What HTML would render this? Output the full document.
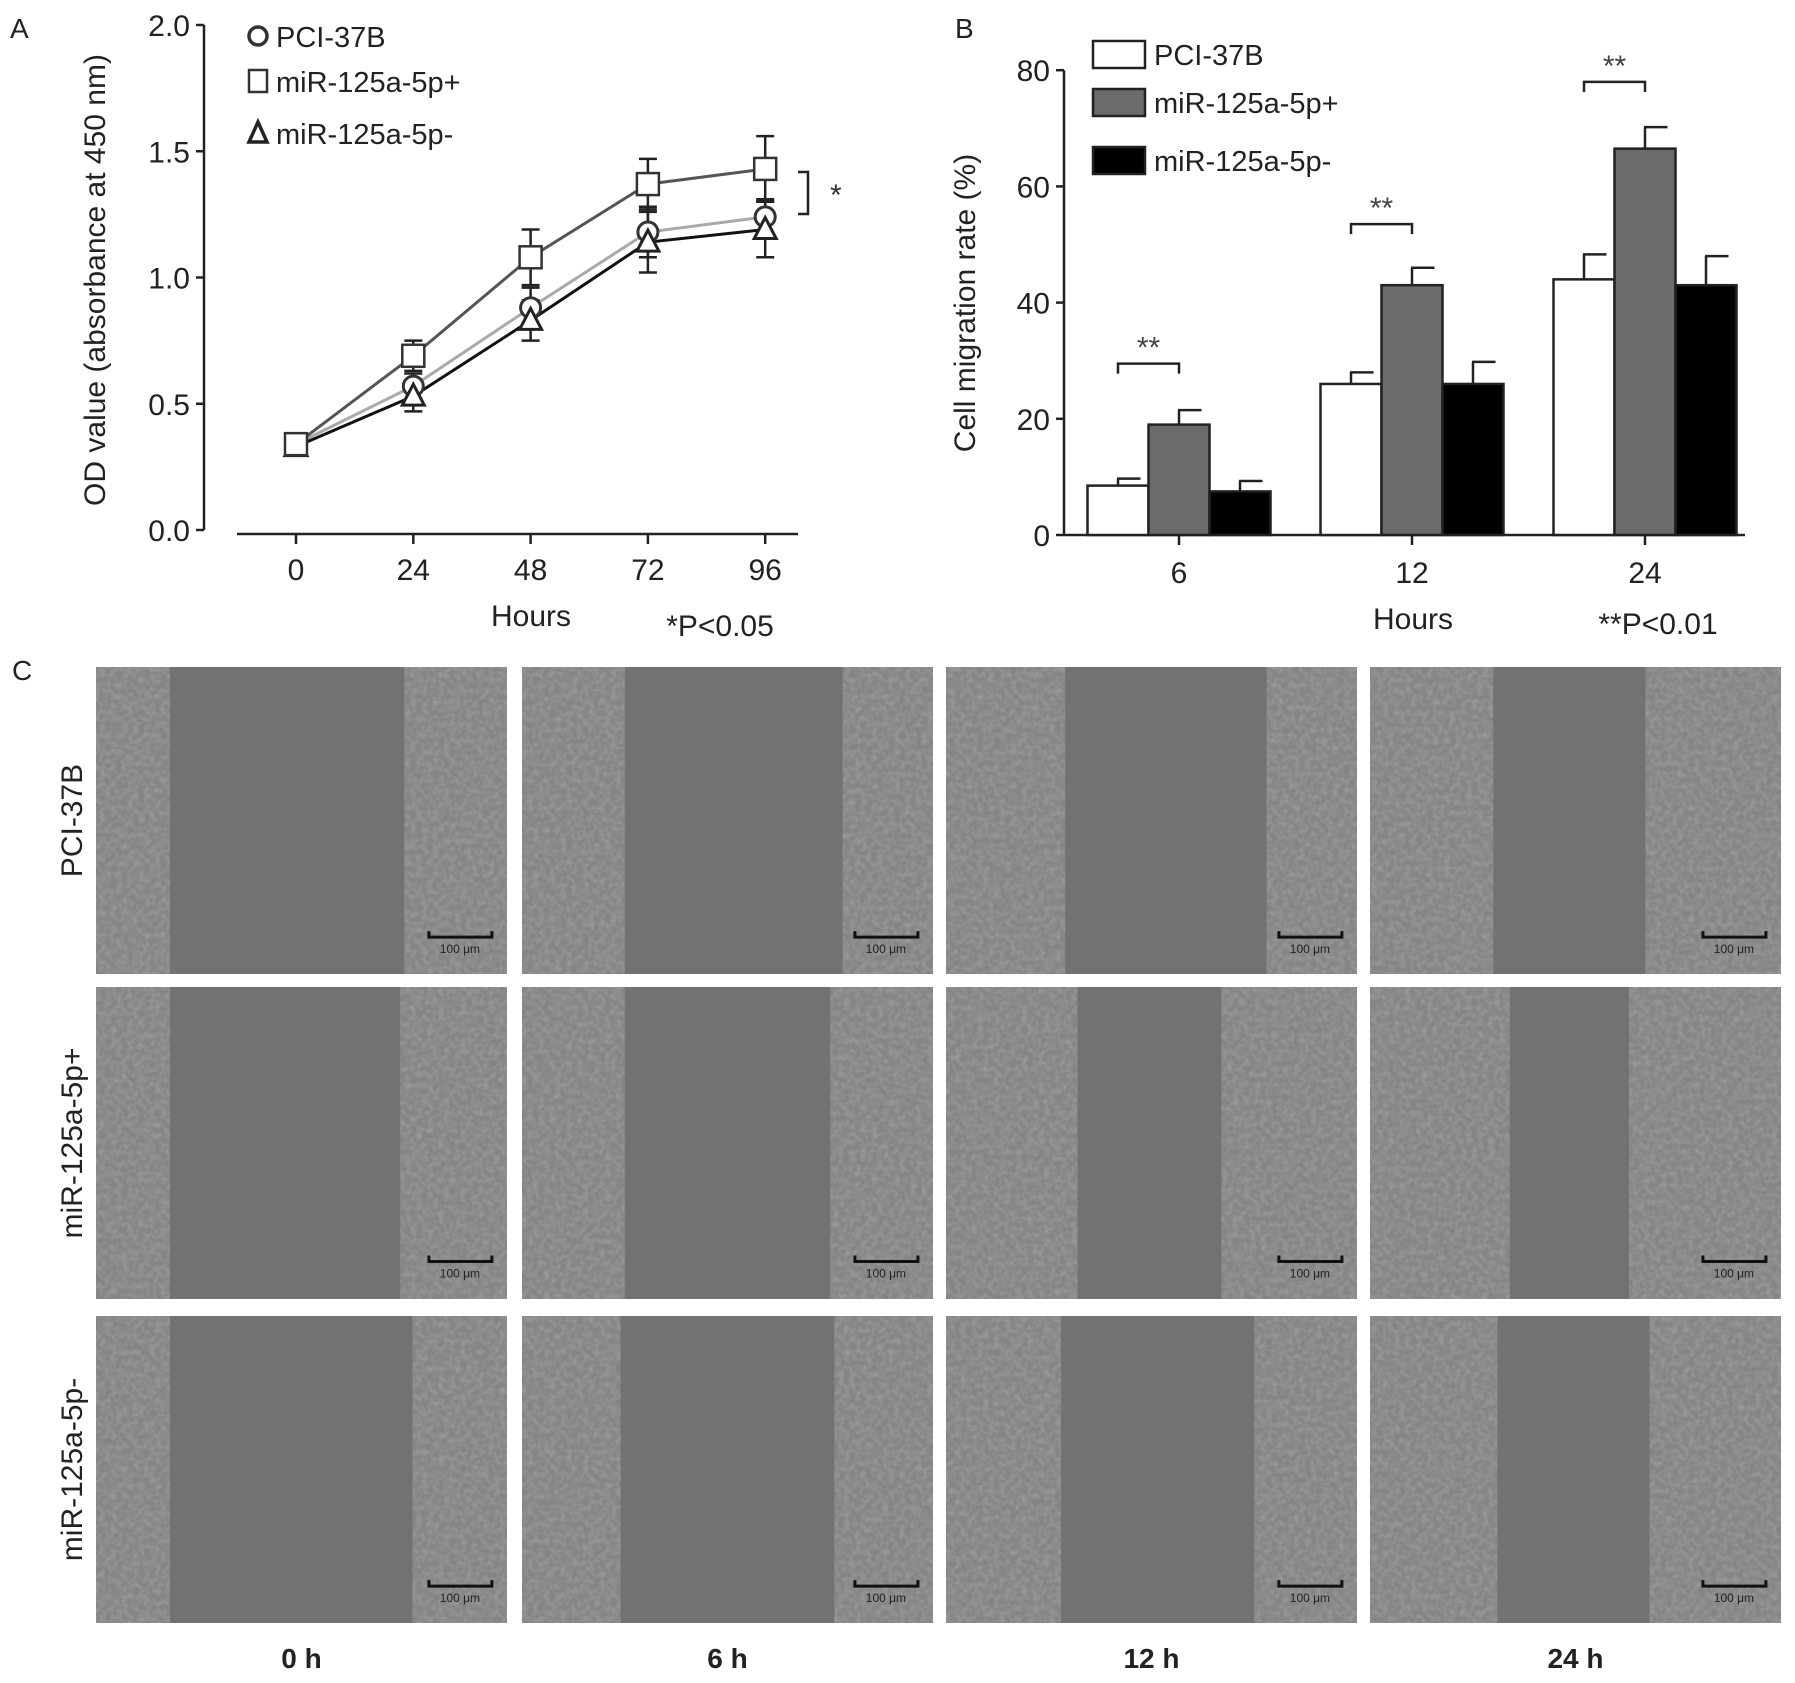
<!DOCTYPE html>
<html><head><meta charset="utf-8"><style>
html,body{margin:0;padding:0;background:#fff;}
svg{display:block;font-family:"Liberation Sans",sans-serif;}
</style></head><body>
<svg id="fig" width="1795" height="1683" viewBox="0 0 1795 1683" xmlns="http://www.w3.org/2000/svg">
<defs>
<filter id="noise" x="0" y="0" width="100%" height="100%">
<feTurbulence type="fractalNoise" baseFrequency="0.18" numOctaves="2" seed="3"/>
<feColorMatrix type="matrix" values="0 0 0 0 1  0 0 0 0 1  0 0 0 0 1  0 0 0 0.9 -0.3"/>
<feComposite in2="SourceGraphic" operator="in"/>
</filter>
</defs>
<g id="panelA"></g>
<g id="panelB"></g>
<g id="panelC"></g>
</svg>
<script>
// ---------- Panel A data ----------
const hoursA = [0, 24, 48, 72, 96];
const yTicksA = [0.0, 0.5, 1.0, 1.5, 2.0];
const pciA = [0.34, 0.57, 0.88, 1.18, 1.24];
const plusA = [0.34, 0.69, 1.08, 1.37, 1.43];
const minusA = [0.33, 0.53, 0.83, 1.14, 1.19];
const pciErrA = [0.03, 0.05, 0.08, 0.1, 0.07];
const plusErrA = [0.03, 0.06, 0.11, 0.1, 0.13];
const minusErrA = [0.03, 0.06, 0.08, 0.12, 0.11];
// ---------- Panel B data ----------
const groupsB = ["6", "12", "24"];
const yTicksB = [0, 20, 40, 60, 80];
const pciB = [8.5, 26, 44];
const plusB = [19, 43, 66.5];
const minusB = [7.5, 26, 43];
const pciErrB = [1.2, 2, 4.3];
const plusErrB = [2.5, 3, 3.7];
const minusErrB = [1.8, 3.8, 5];
const sigB = [29.5, 53.5, 78];
// ---------- Panel C data (gap edges as fraction of image width) ----------
const rowLabels = ["PCI-37B", "miR-125a-5p+", "miR-125a-5p-"];
const colLabels = ["0 h", "6 h", "12 h", "24 h"];
const gapLeft = [[0.18,0.25,0.29,0.30],[0.18,0.25,0.32,0.34],[0.18,0.24,0.28,0.31]];
const gapRight = [[0.75,0.78,0.78,0.67],[0.74,0.75,0.67,0.63],[0.77,0.76,0.75,0.68]];

const NS = "http://www.w3.org/2000/svg";
function mk(parent, tag, attrs, text){
  const e = document.createElementNS(NS, tag);
  for (const k in attrs) e.setAttribute(k, attrs[k]);
  if (text !== undefined) e.textContent = text;
  parent.appendChild(e); return e;
}

// ===== Panel A =====
(function(){
  const g = document.getElementById('panelA');
  const xA = h => 296 + (h/24)*117.3;
  const yA = v => 530 - v*252.5;
  let t = mk(g,'text',{x:10,y:38,'font-size':28,fill:'#222'},'A');
   
  let ax = mk(g,'line',{x1:204,y1:yA(2),x2:204,y2:yA(0),stroke:'#222','stroke-width':2.5});
   
  yTicksA.forEach(v=>{
    mk(g,'line',{x1:196,y1:yA(v),x2:204,y2:yA(v),stroke:'#222','stroke-width':2.5});
    const tl = mk(g,'text',{x:190,y:yA(v)+11,'font-size':30,'text-anchor':'end',fill:'#222'},v.toFixed(1));
     
  });
  let xa = mk(g,'line',{x1:237,y1:534,x2:798,y2:534,stroke:'#222','stroke-width':2.5});
   
  hoursA.forEach(h=>{
    mk(g,'line',{x1:xA(h),y1:534,x2:xA(h),y2:544,stroke:'#222','stroke-width':2.5});
    const tl = mk(g,'text',{x:xA(h),y:580,'font-size':30,'text-anchor':'middle',fill:'#222'},String(h));
     
  });
  t = mk(g,'text',{x:0,y:0,'font-size':30,'text-anchor':'middle',fill:'#222',transform:'translate(105,280) rotate(-90)'},'OD value (absorbance at 450 nm)');
   
  t = mk(g,'text',{x:531,y:626,'font-size':30,'text-anchor':'middle',fill:'#222'},'Hours');
   
  t = mk(g,'text',{x:720,y:636,'font-size':30,'text-anchor':'middle',fill:'#222'},'*P<0.05');
   
  let br = mk(g,'path',{d:'M798 172 H808 V214 H798',fill:'none',stroke:'#222','stroke-width':2.5});
   
  t = mk(g,'text',{x:830,y:205,'font-size':30,fill:'#333'},'*');
   

  const series = [
    {name:'pci', vals:pciA, err:pciErrA, color:'#aaa', marker:'circle'},
    {name:'minus', vals:minusA, err:minusErrA, color:'#111', marker:'triangle'},
    {name:'plus', vals:plusA, err:plusErrA, color:'#555', marker:'square'}
  ];
  series.forEach(s=>{
    const pts = s.vals.map((v,i)=>xA(hoursA[i])+','+yA(v)).join(' ');
    const pl = mk(g,'polyline',{points:pts,fill:'none',stroke:s.color,'stroke-width':3});
     
    s.vals.forEach((v,i)=>{
      const x = xA(hoursA[i]);
      const eb = mk(g,'path',{d:`M${x} ${yA(v-s.err[i])} V${yA(v+s.err[i])} M${x-9} ${yA(v+s.err[i])} H${x+9} M${x-9} ${yA(v-s.err[i])} H${x+9}`,stroke:'#222','stroke-width':2.5,fill:'none'});
       
    });
  });
  series.forEach(s=>{
    s.vals.forEach((v,i)=>{
      const x = xA(hoursA[i]), y = yA(v);
      let m;
      if (s.marker==='circle') m = mk(g,'circle',{cx:x,cy:y,r:10,fill:'#fff',stroke:'#333','stroke-width':3});
      else if (s.marker==='square') m = mk(g,'rect',{x:x-11,y:y-11,width:22,height:22,fill:'#fff',stroke:'#333','stroke-width':2.5});
      else m = mk(g,'polygon',{points:`${x},${y-12} ${x-11},${y+9} ${x+11},${y+9}`,fill:'#fff',stroke:'#222','stroke-width':3});
       
    });
  });
  const leg = [['circle','PCI-37B',36],['square','miR-125a-5p+',81],['triangle','miR-125a-5p-',133]];
  leg.forEach(l=>{
    const lg = mk(g,'g',{});
     
    const x=258, y=l[2];
    if (l[0]==='circle') mk(lg,'circle',{cx:x,cy:y,r:9,fill:'#fff',stroke:'#333','stroke-width':3.5});
    else if (l[0]==='square') mk(lg,'rect',{x:x-9,y:y-11,width:18,height:22,fill:'#fff',stroke:'#333','stroke-width':2.5});
    else mk(lg,'polygon',{points:`${x},${y-11} ${x-9},${y+9} ${x+9},${y+9}`,fill:'#fff',stroke:'#222','stroke-width':3.5});
    mk(lg,'text',{x:276,y:y+11,'font-size':29,fill:'#222'},l[1]);
  });
})();

// ===== Panel B =====
(function(){
  const g = document.getElementById('panelB');
  const yB = v => 535 - v*5.81;
  const cx = i => 1179 + i*233;
  const bw = 61;
  let t = mk(g,'text',{x:955,y:38,'font-size':28,fill:'#222'},'B');
   
  let ax = mk(g,'line',{x1:1064,y1:yB(80),x2:1064,y2:yB(0),stroke:'#222','stroke-width':2.5});
   
  yTicksB.forEach(v=>{
    mk(g,'line',{x1:1056,y1:yB(v),x2:1064,y2:yB(v),stroke:'#222','stroke-width':2.5});
    const tl = mk(g,'text',{x:1050,y:yB(v)+11,'font-size':30,'text-anchor':'end',fill:'#222'},String(v));
     
  });
  let xa = mk(g,'line',{x1:1064,y1:yB(0),x2:1745,y2:yB(0),stroke:'#222','stroke-width':2.5});
   
  groupsB.forEach((gname,i)=>{
    mk(g,'line',{x1:cx(i),y1:yB(0),x2:cx(i),y2:yB(0)+10,stroke:'#222','stroke-width':2.5});
    const tl = mk(g,'text',{x:cx(i),y:583,'font-size':30,'text-anchor':'middle',fill:'#222'},gname);
     
  });
  t = mk(g,'text',{x:0,y:0,'font-size':30,'text-anchor':'middle',fill:'#222',transform:'translate(975,303) rotate(-90)'},'Cell migration rate (%)');
   
  t = mk(g,'text',{x:1413,y:629,'font-size':30,'text-anchor':'middle',fill:'#222'},'Hours');
   
  t = mk(g,'text',{x:1658,y:634,'font-size':30,'text-anchor':'middle',fill:'#222'},'**P<0.01');
   
  const series = [['pci',pciB,pciErrB,'#fff',-1],['plus',plusB,plusErrB,'#6b6b6b',0],['minus',minusB,minusErrB,'#000',1]];
  series.forEach(s=>{
    s[1].forEach((v,i)=>{
      const x0 = cx(i) + s[4]*bw - bw/2;
      const xc = x0 + bw/2, ye = yB(v+s[2][i]);
      const eb = mk(g,'path',{d:`M${xc} ${yB(v)} V${ye} M${xc-1} ${ye} H${xc+bw/2-8}`,stroke:'#222','stroke-width':2.5,fill:'none'});
       
      const r = mk(g,'rect',{x:x0,y:yB(v),width:bw,height:yB(0)-yB(v),fill:s[3],stroke:'#222','stroke-width':2.5});
       
    });
  });
  sigB.forEach((v,i)=>{
    const x1 = cx(i)-bw, x2 = cx(i);
    const b = mk(g,'path',{d:`M${x1} ${yB(v)+10} V${yB(v)} H${x2} V${yB(v)+10}`,fill:'none',stroke:'#222','stroke-width':2.5});
     
    const st = mk(g,'text',{x:(x1+x2)/2,y:yB(v)-6,'font-size':30,'text-anchor':'middle',fill:'#444'},'**');
     
  });
  const leg = [['#fff','PCI-37B',41],['#6b6b6b','miR-125a-5p+',89],['#000','miR-125a-5p-',147]];
  leg.forEach(l=>{
    const lg = mk(g,'g',{});
     
    mk(lg,'rect',{x:1093,y:l[2],width:52,height:27,fill:l[0],stroke:'#222','stroke-width':2.5});
    mk(lg,'text',{x:1154,y:l[2]+24,'font-size':29,fill:'#222'},l[1]);
  });
})();

// ===== Panel C =====
(function(){
  const g = document.getElementById('panelC');
  const colX = [96,522,946,1370], colW = 411;
  const rowY = [667,987,1316], rowH = [307,312,307];
  let t = mk(g,'text',{x:12,y:680,'font-size':28,fill:'#222'},'C');
   
  rowY.forEach((ry,r)=>{
    const rl = mk(g,'text',{x:0,y:0,'font-size':30,'text-anchor':'middle',fill:'#222',transform:`translate(82,${ry+rowH[r]/2}) rotate(-90)`},rowLabels[r]);
     
    colX.forEach((cxp,c)=>{
      const im = mk(g,'g',{});
       
      mk(im,'rect',{x:cxp,y:ry,width:colW,height:rowH[r],fill:'#858585'});
      mk(im,'rect',{x:cxp,y:ry,width:colW,height:rowH[r],fill:'#777',filter:'url(#noise)',opacity:0.35});
      const gl = cxp+gapLeft[r][c]*colW, gr = cxp+gapRight[r][c]*colW;
      mk(im,'rect',{x:gl,y:ry,width:gr-gl,height:rowH[r],fill:'#727272'});
      const sx = cxp+0.81*colW, sy = ry+rowH[r]*0.88;
      mk(im,'path',{d:`M${sx} ${sy-6} V${sy} H${sx+63} V${sy-6}`,fill:'none',stroke:'#111','stroke-width':3});
      mk(im,'text',{x:sx+31,y:sy+16,'font-size':12,'text-anchor':'middle',fill:'#222'},'100 μm');
    });
  });
  colLabels.forEach((cl,c)=>{
    const l = mk(g,'text',{x:colX[c]+colW/2,y:1668,'font-size':28,'font-weight':'bold','text-anchor':'middle',fill:'#222'},cl);
     
  });
})();
</script>
</body></html>
